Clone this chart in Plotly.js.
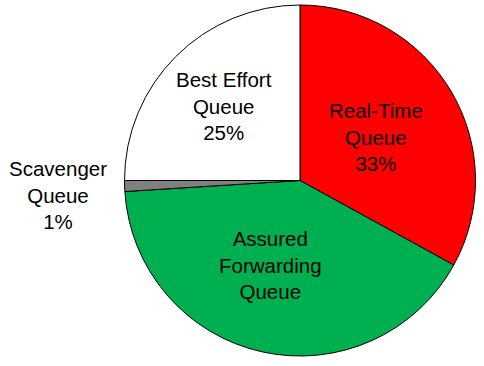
<!DOCTYPE html>
<html>
<head>
<meta charset="utf-8">
<script src="https://cdn.plot.ly/plotly-3.0.1.min.js"></script>
<style>html,body{margin:0;padding:0;background:#fff;}#chart{width:484px;height:366px;}</style>
</head>
<body>
<div id="chart"></div>
<script>
var categories = ["Real-Time Queue", "Assured Forwarding Queue", "Scavenger Queue", "Best Effort Queue"];
var shares = [33, 41, 1, 25];
var labelTexts = ["Real-Time<br>Queue<br>33%", "Assured<br>Forwarding<br>Queue", "Scavenger<br>Queue<br>1%", "Best Effort<br>Queue<br>25%"];
var sliceColors = ["#FF0000", "#00B050", "#808080", "#FFFFFF"];

var W = 484, H = 366;
var labelPos = [[376, 137], [270, 265], [58, 195], [224, 106]];

var annotations = labelTexts.map(function (t, i) {
  return {
    text: t, xref: "paper", yref: "paper",
    x: labelPos[i][0] / W, y: 1 - labelPos[i][1] / H,
    xanchor: "center", yanchor: "middle", showarrow: false,
    font: {family: "Liberation Sans, Arial, sans-serif", size: 20.5, color: "#000"}
  };
});

Plotly.newPlot("chart", [{
  type: "pie",
  labels: categories,
  values: shares,
  sort: false,
  direction: "clockwise",
  rotation: 0,
  textinfo: "none",
  hoverinfo: "label+percent",
  marker: {colors: sliceColors, line: {color: "#000", width: 1}},
  domain: {x: [124 / W, 476 / W], y: [1 - 356 / H, 1 - 5 / H]}
}], {
  width: W, height: H,
  margin: {l: 0, r: 0, t: 0, b: 0},
  paper_bgcolor: "#fff",
  showlegend: false,
  annotations: annotations
}, {displayModeBar: false, staticPlot: true});
</script>
</body>
</html>
